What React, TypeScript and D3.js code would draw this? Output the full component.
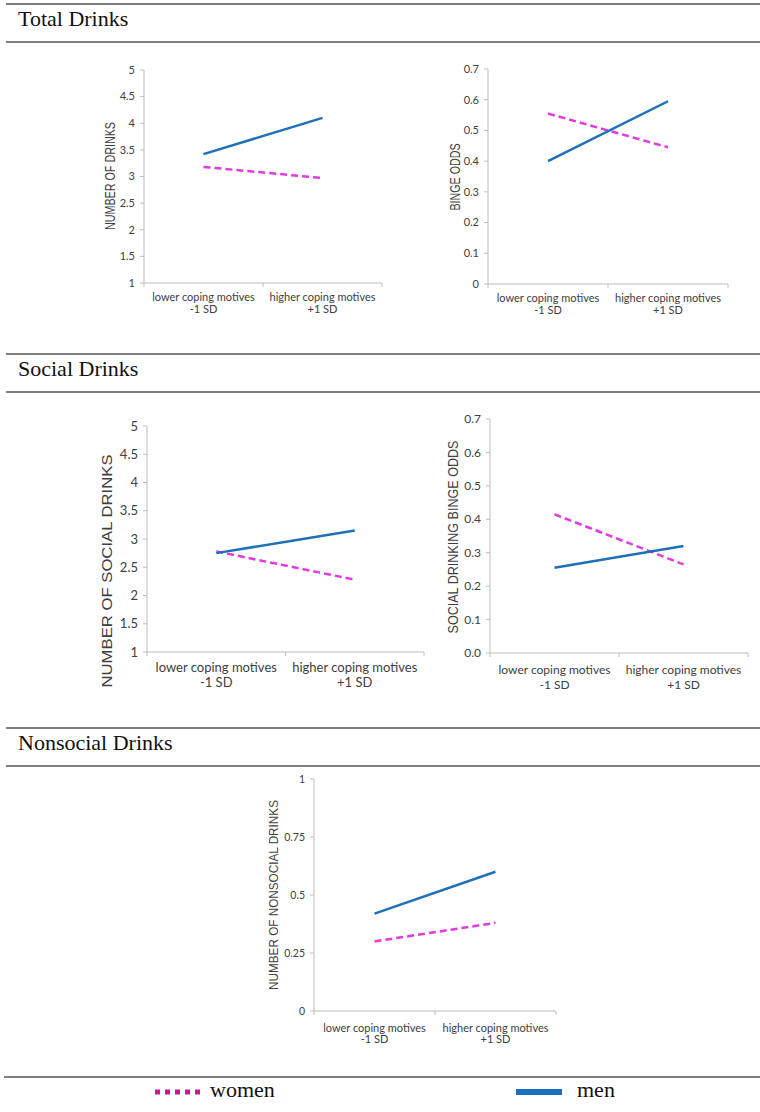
import React from 'react';
import * as d3 from 'd3';

const width = 760;
const height = 1112;

const categories = ['low', 'high'];
const categoryLines = [
  ['lower coping motives', '-1 SD'],
  ['higher coping motives', '+1 SD'],
];

// values (women / men at -1 SD and +1 SD)
const totalWomen = [3.18, 2.97];
const totalMen = [3.42, 4.1];
const bingeWomen = [0.555, 0.445];
const bingeMen = [0.4, 0.595];
const socialWomen = [2.78, 2.28];
const socialMen = [2.75, 3.15];
const socialBingeWomen = [0.415, 0.265];
const socialBingeMen = [0.255, 0.32];
const nonsocialWomen = [0.3, 0.38];
const nonsocialMen = [0.42, 0.6];

const drinkTicks = [1, 1.5, 2, 2.5, 3, 3.5, 4, 4.5, 5];
const drinkTickLabels = ['1', '1.5', '2', '2.5', '3', '3.5', '4', '4.5', '5'];
const oddsTicks = [0, 0.1, 0.2, 0.3, 0.4, 0.5, 0.6, 0.7];
const oddsTickLabels = ['0', '0.1', '0.2', '0.3', '0.4', '0.5', '0.6', '0.7'];
const socialOddsTickLabels = ['0.0', '0.1', '0.2', '0.3', '0.4', '0.5', '0.6', '0.7'];
const nonsocialTicks = [0, 0.25, 0.5, 0.75, 1];
const nonsocialTickLabels = ['0', '0.25', '0.5', '0.75', '1'];

const pink = '#e23ae0';
const blue = '#1f70b8';
const axisColor = '#bdbdbd';
const textColor = '#404040';

type PanelProps = {
  left: number; right: number; top: number; bottom: number;
  ticks: number[]; tickLabels: string[];
  women: number[]; men: number[];
  yLabel: string; yLabelX: number; yLabelY: number; yLabelSize: number; yLabelLength: number;
  tickSize: number; catSize: number; line1: number; line2: number;
};

const Panel = (p: PanelProps) => {
  const x = d3.scaleBand().domain(categories).range([p.left, p.right]).padding(0);
  const y = d3.scaleLinear()
    .domain([p.ticks[0], p.ticks[p.ticks.length - 1]])
    .range([p.bottom, p.top]);
  const line = d3.line<number>()
    .x((d, i) => (x(categories[i]) as number) + x.bandwidth() / 2)
    .y(d => y(d));
  const bounds = [...categories.map(c => x(c) as number), p.right];

  return (
    <g>
      <line x1={p.left} x2={p.left} y1={y(p.ticks[p.ticks.length - 1])} y2={p.bottom} stroke={axisColor} />
      <line x1={p.left} x2={p.right} y1={p.bottom} y2={p.bottom} stroke={axisColor} />
      {p.ticks.map((t, i) => (
        <g key={i}>
          <line x1={p.left - 4} x2={p.left} y1={y(t)} y2={y(t)} stroke={axisColor} />
          <text x={p.left - 9} y={y(t)} dy="0.35em" textAnchor="end"
            fontFamily="Lato, 'Open Sans', sans-serif" fontSize={p.tickSize} fill={textColor}>
            {p.tickLabels[i]}
          </text>
        </g>
      ))}
      {bounds.map((b, i) => (
        <line key={i} x1={b} x2={b} y1={p.bottom} y2={p.bottom + 4} stroke={axisColor} />
      ))}
      {categories.map((c, i) => (
        <text key={c} x={(x(c) as number) + x.bandwidth() / 2} textAnchor="middle"
          fontFamily="Lato, 'Open Sans', sans-serif" fontSize={p.catSize} fill={textColor}>
          <tspan x={(x(c) as number) + x.bandwidth() / 2} y={p.bottom + p.line1}>{categoryLines[i][0]}</tspan>
          <tspan x={(x(c) as number) + x.bandwidth() / 2} y={p.bottom + p.line2}>{categoryLines[i][1]}</tspan>
        </text>
      ))}
      <text transform={`translate(${p.yLabelX},${p.yLabelY}) rotate(-90)`} dy="0.35em" textAnchor="middle"
        fontFamily="'Liberation Sans', Arial, sans-serif" fontSize={p.yLabelSize} fill={textColor}
        textLength={p.yLabelLength} lengthAdjust="spacingAndGlyphs">
        {p.yLabel}
      </text>
      <path d={line(p.women) || ''} fill="none" stroke={pink} strokeWidth={2.5} strokeDasharray="7,4" />
      <path d={line(p.men) || ''} fill="none" stroke={blue} strokeWidth={2.5} />
    </g>
  );
};

const Section = ({ top, title }: { top: number; title: string }) => (
  <g>
    <line x1={6} x2={760} y1={top} y2={top} stroke="#555" strokeWidth={1.5} />
    <text x={18} y={top + 22} fontFamily="'Liberation Serif', 'Times New Roman', serif" fontSize={22} fill="#111">{title}</text>
    <line x1={6} x2={760} y1={top + 38} y2={top + 38} stroke="#555" strokeWidth={1.5} />
  </g>
);

const App = () => (
  <svg width={width} height={height} style={{ position: 'absolute', left: 0, top: 0, background: '#fff' }}>
    <Section top={4} title="Total Drinks" />
    <Panel left={144} right={382} top={70} bottom={283} ticks={drinkTicks} tickLabels={drinkTickLabels}
      women={totalWomen} men={totalMen} yLabel="NUMBER OF DRINKS" yLabelX={110} yLabelY={176}
      yLabelSize={14} yLabelLength={108} tickSize={11} catSize={11} line1={18} line2={30} />
    <Panel left={488} right={728} top={69} bottom={284} ticks={oddsTicks} tickLabels={oddsTickLabels}
      women={bingeWomen} men={bingeMen} yLabel="BINGE ODDS" yLabelX={455} yLabelY={177}
      yLabelSize={14} yLabelLength={67} tickSize={11} catSize={11} line1={18} line2={30} />

    <Section top={354} title="Social Drinks" />
    <Panel left={147} right={424} top={426} bottom={652} ticks={drinkTicks} tickLabels={drinkTickLabels}
      women={socialWomen} men={socialMen} yLabel="NUMBER OF SOCIAL DRINKS" yLabelX={107} yLabelY={571}
      yLabelSize={15} yLabelLength={233} tickSize={13} catSize={13} line1={20} line2={35} />
    <Panel left={490} right={748} top={419} bottom={653} ticks={oddsTicks} tickLabels={socialOddsTickLabels}
      women={socialBingeWomen} men={socialBingeMen} yLabel="SOCIAL DRINKING BINGE ODDS" yLabelX={453} yLabelY={537}
      yLabelSize={14} yLabelLength={193} tickSize={12} catSize={12} line1={21} line2={36} />

    <Section top={728} title="Nonsocial Drinks" />
    <Panel left={314} right={556} top={779} bottom={1011} ticks={nonsocialTicks} tickLabels={nonsocialTickLabels}
      women={nonsocialWomen} men={nonsocialMen} yLabel="NUMBER OF NONSOCIAL DRINKS" yLabelX={273} yLabelY={895}
      yLabelSize={13} yLabelLength={190} tickSize={10.5} catSize={11} line1={21} line2={32} />

    <line x1={4} x2={760} y1={1077} y2={1077} stroke="#555" strokeWidth={1.5} />
    <line x1={155} x2={200} y1={1092} y2={1092} stroke="#cc1499" strokeWidth={5} strokeDasharray="5,5" />
    <text x={210} y={1097} fontFamily="'Liberation Serif', 'Times New Roman', serif" fontSize={22} fill="#111">women</text>
    <line x1={516} x2={562} y1={1092} y2={1092} stroke="#1a6fc0" strokeWidth={6} />
    <text x={577} y={1097} fontFamily="'Liberation Serif', 'Times New Roman', serif" fontSize={22} fill="#111">men</text>
  </svg>
);

export default App;
